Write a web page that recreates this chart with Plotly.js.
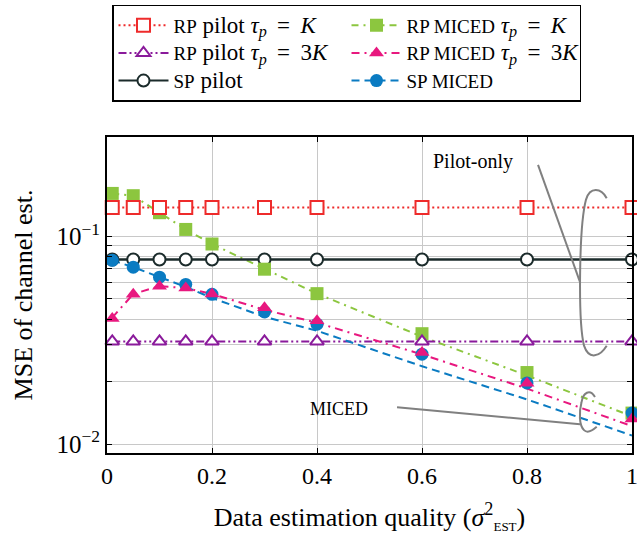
<!DOCTYPE html>
<html><head><meta charset="utf-8">
<script src="https://cdn.plot.ly/plotly-3.0.1.min.js"></script>
<style>html,body{margin:0;padding:0;background:#fff}</style>
</head><body><div id="chart" style="width:637px;height:538px"></div>
<script>
// ---------- data ----------
const xPoints = [0.01, 0.05, 0.1, 0.15, 0.2, 0.3, 0.4, 0.6, 0.8, 1];
const rpPilotK = [0.1376, 0.1376, 0.1376, 0.1376, 0.1376, 0.1376, 0.1376, 0.1376, 0.1376, 0.1376];
const rpPilot3K = [0.0312, 0.0312, 0.0312, 0.0312, 0.0312, 0.0312, 0.0312, 0.0312, 0.0312, 0.0312];
const spPilot = [0.0774, 0.0774, 0.0774, 0.0774, 0.0774, 0.0774, 0.0774, 0.0774, 0.0774, 0.0774];
const rpMicedKMarkers = [0.161, 0.157, 0.130, 0.108, 0.0919, 0.0695, 0.0530, 0.0340, 0.0221, 0.0141];
const rpMicedKLine = [0.161, 0.157, 0.130, 0.108, 0.0919, 0.0695, 0.0530, 0.0329, 0.0214, 0.0136];
const rpMiced3KMarkers = [0.0402, 0.0526, 0.0575, 0.0564, 0.0528, 0.0453, 0.0392, 0.0276, 0.0196, 0.0132];
const rpMiced3KLine = [0.0406, 0.0528, 0.0576, 0.0564, 0.0528, 0.0443, 0.0384, 0.0270, 0.0185, 0.0122];
const spMicedMarkers = [0.0767, 0.0711, 0.0636, 0.0587, 0.0526, 0.0433, 0.0378, 0.0271, 0.0197, 0.0141];
const spMicedLine = [0.0767, 0.0711, 0.0637, 0.0571, 0.0505, 0.0410, 0.0351, 0.0237, 0.0164, 0.0110];
const xTickVals = [0, 0.2, 0.4, 0.6, 0.8, 1];
const xTickText = ['0', '0.2', '0.4', '0.6', '0.8', '1'];
const yTickVals = [0.01, 0.02, 0.03, 0.04, 0.05, 0.06, 0.07, 0.08, 0.09, 0.1];
const yTickText = ['10<sup>−2</sup>', '', '', '', '', '', '', '', '', '10<sup>−1</sup>'];

// ---------- styles ----------
const SERIF = 'Liberation Serif, Times New Roman, serif';
const sc = s => '<span style="font-size:19px">' + s + '</span>';
const big = s => '<span style="font-size:23px">' + s + '</span>';
const EQ = ' \u2009=\u2009 ';
const series = [
  {name: sc('RP') + big(' pilot <i>τ<sub>p</sub></i>' + EQ + '<i>K</i>'), color: '#ee2b2b', dash: '2px,3px', sym: 'square', size: 13, fill: '#ffffff', lw: 2, mk: rpPilotK, ln: rpPilotK},
  {name: sc('RP MICED') + big(' <i>τ<sub>p</sub></i>' + EQ + '<i>K</i>'), color: '#8cc63f', dash: '7px,5px,2px,5px', sym: 'square', size: 13, fill: '#8cc63f', lw: 0, mk: rpMicedKMarkers, ln: rpMicedKLine},
  {name: sc('RP') + big(' pilot <i>τ<sub>p</sub></i>' + EQ + '3<i>K</i>'), color: '#8a1a9b', dash: '8px,3px,2px,3px,2px,3px', sym: 'triangle-up', size: 12, fill: '#ffffff', lw: 2, mk: rpPilot3K, ln: rpPilot3K},
  {name: sc('RP MICED') + big(' <i>τ<sub>p</sub></i>' + EQ + '3<i>K</i>'), color: '#e8187f', dash: '8px,5px,2px,5px', sym: 'triangle-up', size: 13, fill: '#e8187f', lw: 0, mk: rpMiced3KMarkers, ln: rpMiced3KLine},
  {name: sc('SP') + big(' pilot'), color: '#1b2b2b', dash: 'solid', sym: 'circle', size: 12, fill: '#ffffff', lw: 2, mk: spPilot, ln: spPilot},
  {name: sc('SP MICED'), color: '#0a7bc2', dash: '8px,5px', sym: 'circle', size: 13, fill: '#0a7bc2', lw: 0, mk: spMicedMarkers, ln: spMicedLine}
];

const traces = [];
// legend entries (no drawn data)
series.forEach((s, i) => {
  traces.push({x: [null], y: [null], type: 'scatter', mode: 'lines+markers', name: s.name,
    legendgroup: 'g' + i, showlegend: true,
    line: {color: s.color, width: 2, dash: s.dash},
    marker: {symbol: s.sym, size: s.size, color: s.fill, line: {color: s.color, width: s.lw}}});
});
// lines
series.forEach((s, i) => {
  traces.push({x: xPoints, y: s.ln, type: 'scatter', mode: 'lines', legendgroup: 'g' + i, showlegend: false,
    line: {color: s.color, width: i === 4 ? 2.5 : 2, dash: s.dash}, hoverinfo: 'skip'});
});
// markers, z-order: SP pilot, RP MICED K, RP pilot K, RP pilot 3K, SP MICED, RP MICED 3K
[4, 1, 0, 2, 5, 3].forEach(i => {
  const s = series[i];
  traces.push({x: xPoints, y: s.mk, type: 'scatter', mode: 'markers', legendgroup: 'g' + i, showlegend: false,
    cliponaxis: false,
    marker: {symbol: s.sym, size: s.size, color: s.fill, line: {color: s.color, width: s.lw}}});
});

// ---------- annotation geometry (pixel -> paper) ----------
const L = 107, R = 632, T = 135, B = 453;
const px = x => (x - L) / (R - L);
const py = y => (B - y) / (B - T);
function pathStr(cmds) {
  return cmds.map(c => {
    const nums = [];
    for (let k = 1; k < c.length; k += 2) nums.push(px(c[k]).toFixed(4) + ',' + py(c[k + 1]).toFixed(4));
    return c[0] + nums.join(' ');
  }).join(' ');
}
const grey = {color: '#808080', width: 2};
const shapes = [
  {type: 'path', xref: 'paper', yref: 'paper', line: grey,
    path: pathStr([['M', 538, 163], ['L', 580, 281]])},
  {type: 'path', xref: 'paper', yref: 'paper', line: grey,
    path: pathStr([['M', 606.7, 196.7], ['C', 601, 186, 590, 185, 586, 198], ['C', 579, 225, 578, 320, 584, 345], ['C', 589, 360, 600, 356, 606.7, 345]])},
  {type: 'path', xref: 'paper', yref: 'paper', line: grey,
    path: pathStr([['M', 397, 407], ['L', 580, 424]])},
  {type: 'path', xref: 'paper', yref: 'paper', line: grey,
    path: pathStr([['M', 595, 396.7], ['C', 590, 388, 583, 392, 581.5, 402], ['C', 579, 412, 579, 425, 584, 430], ['C', 588, 434, 593, 430, 596.7, 426.7]])}
];

const layout = {
  width: 637, height: 538,
  margin: {l: L, r: 637 - R, t: T, b: 538 - B},
  paper_bgcolor: '#ffffff', plot_bgcolor: '#ffffff',
  font: {family: SERIF, size: 20, color: '#000000'},
  showlegend: true,
  legend: {
    orientation: 'h', x: px(112), y: py(2), xanchor: 'left', yanchor: 'top',
    bordercolor: '#000000', borderwidth: 1.5, bgcolor: '#ffffff',
    font: {family: SERIF, size: 19, color: '#000000'},
    itemwidth: 50, entrywidth: 168, entrywidthmode: 'pixels', traceorder: 'normal',
    itemclick: false, itemdoubleclick: false
  },
  xaxis: {
    type: 'linear', range: [0, 1], tickvals: xTickVals, ticktext: xTickText,
    ticks: 'inside', ticklen: 5, tickcolor: '#000000', tickwidth: 1,
    showline: true, linecolor: '#000000', linewidth: 2, mirror: 'ticks',
    showgrid: true, gridcolor: '#c8c8c8', gridwidth: 1, zeroline: false,
    ticklabeloverflow: 'allow',
    tickfont: {family: SERIF, size: 24, color: '#000000'},
    title: {text: 'Data estimation quality (<i>σ</i><sup>2</sup><sub><span style="font-size:13px">EST</span></sub>)', font: {family: SERIF, size: 26, color: '#000000'}, standoff: 20},
    automargin: false
  },
  yaxis: {
    type: 'log', range: [-2.043, -0.5215], tickvals: yTickVals, ticktext: yTickText,
    ticks: 'inside', ticklen: 5, tickcolor: '#000000', tickwidth: 1,
    showline: true, linecolor: '#000000', linewidth: 2, mirror: 'ticks',
    showgrid: true, gridcolor: '#c8c8c8', gridwidth: 1, zeroline: false,
    ticklabeloverflow: 'allow',
    tickfont: {family: SERIF, size: 25, color: '#000000'},
    title: {text: 'MSE of channel est.', font: {family: SERIF, size: 26, color: '#000000'}, standoff: 16},
    automargin: false
  },
  shapes: shapes,
  annotations: [
    {xref: 'paper', yref: 'paper', x: px(473), y: py(160), text: 'Pilot-only', showarrow: false,
      font: {family: SERIF, size: 20, color: '#000000'}, xanchor: 'center', yanchor: 'middle'},
    {xref: 'paper', yref: 'paper', x: px(339), y: py(409), text: 'MICED', showarrow: false,
      font: {family: SERIF, size: 18, color: '#000000'}, xanchor: 'center', yanchor: 'middle'}
  ]
};

Plotly.newPlot('chart', traces, layout, {staticPlot: true, displayModeBar: false});
</script>
</body></html>
